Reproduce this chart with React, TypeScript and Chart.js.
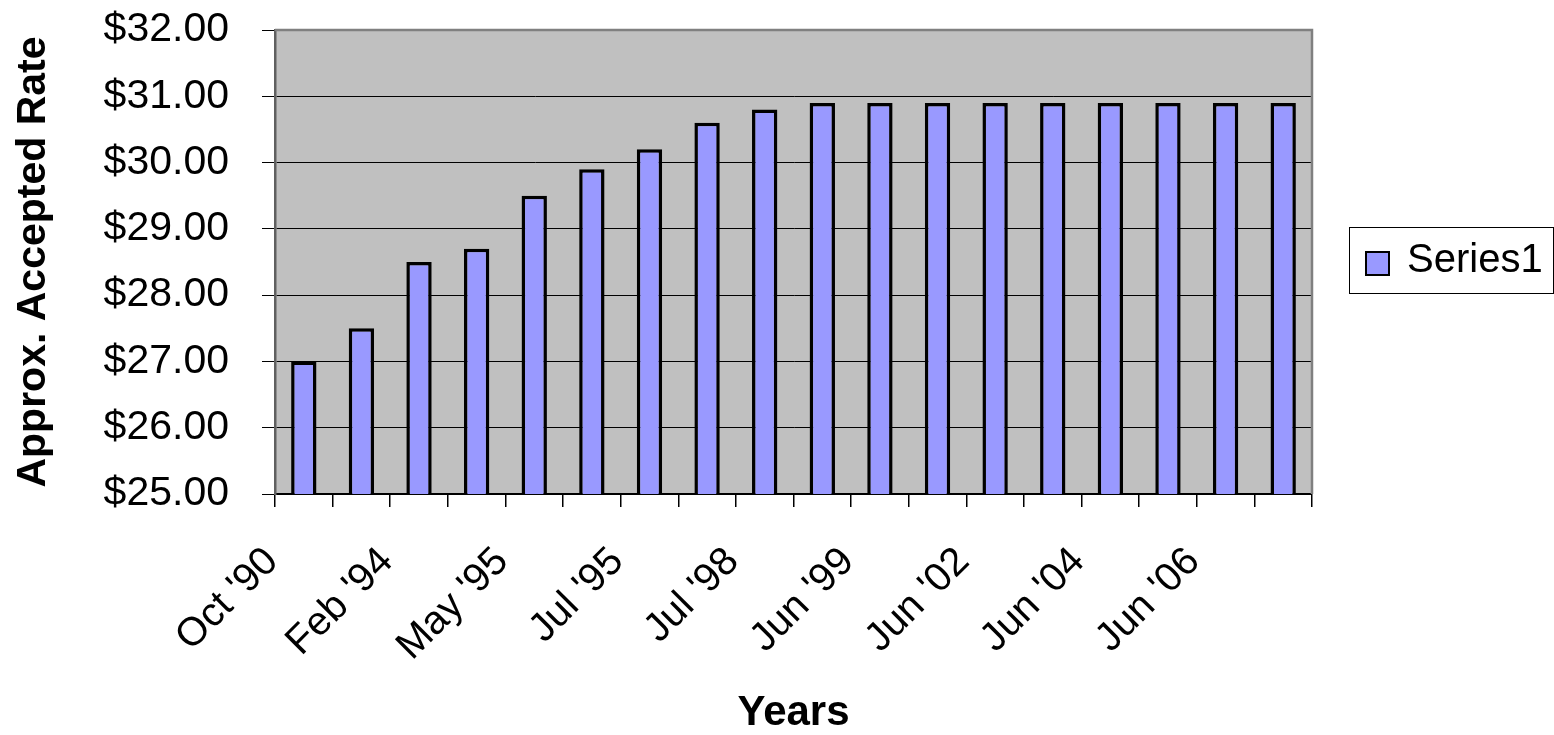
import React, { useEffect, useRef } from "react";
import { Chart, registerables } from "chart.js";

Chart.register(...registerables);

// Category labels (only every second label is printed in the original; the others are unknown)
const categories: string[] = [
  "Oct '90", "", "Feb '94", "", "May '95", "", "Jul '95", "", "Jul '98", "",
  "Jun '99", "", "Jun '02", "", "Jun '04", "", "Jun '06", "",
];

// Approx. accepted rate per category (USD)
const series1: number[] = [
  27.0, 27.5, 28.5, 28.7, 29.5, 29.9, 30.2, 30.6, 30.8,
  30.9, 30.9, 30.9, 30.9, 30.9, 30.9, 30.9, 30.9, 30.9,
];

const seriesName = "Series1";
const yMin = 25;
const yMax = 32;
const yStep = 1;
const xTitle = "Years";
const yTitle = "Approx. Accepted Rate";

const FONT = "'Liberation Sans', Arial, Helvetica, sans-serif";
const BAR_FILL = "#9999FF";

const plotFrame = {
  id: "plotFrame",
  beforeDraw(chart: any) {
    const { ctx, chartArea: a } = chart;
    ctx.save();
    ctx.fillStyle = "#C0C0C0";
    ctx.fillRect(a.left, a.top, a.right - a.left, a.bottom - a.top);
    ctx.restore();
  },
  afterDraw(chart: any) {
    const { ctx, chartArea: a } = chart;
    ctx.save();
    ctx.strokeStyle = "#808080";
    ctx.lineWidth = 2.5;
    ctx.beginPath();
    ctx.moveTo(a.left, a.top);
    ctx.lineTo(a.right, a.top);
    ctx.lineTo(a.right, a.bottom);
    ctx.stroke();
    ctx.restore();
  },
};

const boxLegend = {
  id: "boxLegend",
  afterDraw(chart: any) {
    const { ctx } = chart;
    const ds = chart.data.datasets[0];
    const bx = 1349, by = 227, bw = 204, bh = 66;
    ctx.save();
    ctx.fillStyle = "#FFFFFF";
    ctx.fillRect(bx, by, bw, bh);
    ctx.strokeStyle = "#000000";
    ctx.lineWidth = 1;
    ctx.strokeRect(bx + 0.5, by + 0.5, bw, bh);
    ctx.fillStyle = ds.backgroundColor;
    ctx.fillRect(1366, 252, 23, 23);
    ctx.lineWidth = 2;
    ctx.strokeRect(1366, 252, 23, 23);
    ctx.fillStyle = "#000000";
    ctx.font = `40px ${FONT}`;
    ctx.textBaseline = "middle";
    ctx.textAlign = "left";
    ctx.fillText(ds.label, 1407, 261);
    ctx.restore();
  },
};

export default function App() {
  const ref = useRef<HTMLCanvasElement | null>(null);

  useEffect(() => {
    document.body.style.margin = "0";
    const canvas = ref.current;
    if (!canvas) return;
    const chart = new Chart(canvas, {
      type: "bar",
      data: {
        labels: categories,
        datasets: [
          {
            label: seriesName,
            data: series1,
            backgroundColor: BAR_FILL,
            borderColor: "#000000",
            borderWidth: 3.5,
            barPercentage: 0.44,
            categoryPercentage: 1,
          },
        ],
      },
      options: {
        responsive: false,
        animation: false,
        devicePixelRatio: 1,
        layout: { padding: { top: 30, right: 242, left: 0, bottom: 0 } },
        plugins: {
          legend: { display: false },
          tooltip: { enabled: false },
        },
        scales: {
          x: {
            offset: true,
            grid: {
              offset: true,
              drawOnChartArea: false,
              drawTicks: true,
              tickLength: 13,
              color: "#000000",
              lineWidth: 1.5,
            },
            border: { display: true, color: "#000000", width: 2 },
            ticks: {
              autoSkip: false,
              maxRotation: 45,
              minRotation: 45,
              labelOffset: -32,
              padding: 34,
              color: "#000000",
              font: { family: FONT, size: 40, lineHeight: 1 },
            },
            title: {
              display: true,
              text: xTitle,
              color: "#000000",
              font: { family: FONT, size: 42, weight: "bold", lineHeight: 1 },
              padding: { top: 0, bottom: 1 },
            },
            afterFit: (s: any) => {
              s.height = 241;
              s.paddingLeft = 0;
              s.paddingRight = 0;
            },
          },
          y: {
            min: yMin,
            max: yMax,
            ticks: {
              stepSize: yStep,
              padding: 33,
              color: "#000000",
              font: { family: FONT, size: 41 },
              callback: (v: any) => "$" + Number(v).toFixed(2),
            },
            grid: {
              color: "#000000",
              lineWidth: 1,
              drawTicks: true,
              tickLength: 13,
            },
            border: { display: true, color: "#606060", width: 2.5 },
            title: {
              display: true,
              text: yTitle,
              color: "#000000",
              font: { family: FONT, size: 41, weight: "bold", lineHeight: 1 },
              padding: { top: 13, bottom: 0 },
            },
            afterFit: (s: any) => {
              s.width = 275;
              s.paddingTop = 0;
              s.paddingBottom = 0;
            },
          },
        },
      },
      plugins: [plotFrame, boxLegend],
    } as any);
    return () => chart.destroy();
  }, []);

  return (
    <div style={{ width: 1554, height: 735 }}>
      <canvas ref={ref} width={1554} height={735} style={{ display: "block" }} />
    </div>
  );
}
